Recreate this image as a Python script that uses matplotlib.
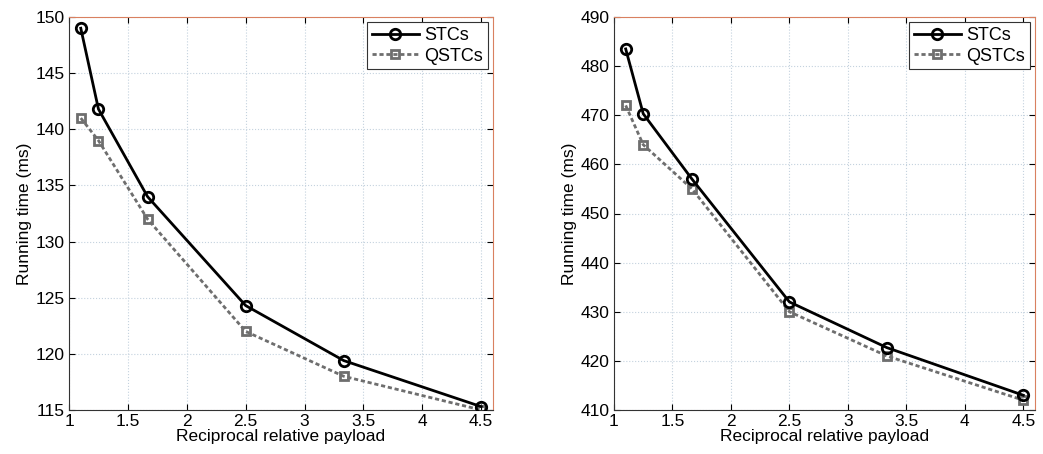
import matplotlib
matplotlib.use("Agg")
import matplotlib.pyplot as plt

# reciprocal relative payload
x_vals = [1.1, 1.25, 1.667, 2.5, 3.333, 4.5]

# left panel
stc_left = [149.0, 141.8, 134.0, 124.3, 119.4, 115.3]
qstc_left = [141.0, 139.0, 132.0, 122.0, 118.0, 115.0]

# right panel
stc_right = [483.5, 470.3, 457.0, 432.0, 422.7, 413.0]
qstc_right = [472.0, 464.0, 455.0, 430.0, 421.0, 412.0]

x_ticks = [1, 1.5, 2, 2.5, 3, 3.5, 4, 4.5]
x_tick_labels = ["1", "1.5", "2", "2.5", "3", "3.5", "4", "4.5"]
left_yticks = [115, 120, 125, 130, 135, 140, 145, 150]
right_yticks = [410, 420, 430, 440, 450, 460, 470, 480, 490]

plt.rcParams['font.family'] = ['Liberation Sans', 'DejaVu Sans']
plt.rcParams['font.size'] = 12.5

fig = plt.figure(figsize=(10.43, 4.54), dpi=100)
W, H = 1043, 454
ax1 = fig.add_axes([69 / W, 44 / H, (493 - 69) / W, (410 - 17) / H])
ax2 = fig.add_axes([614 / W, 44 / H, (1035 - 614) / W, (410 - 17) / H])


def draw_panel(ax, stc, qstc, yticks):
    ax.plot(x_vals, stc, color='black', lw=2, marker='o', ms=7.5,
            mfc='none', mec='black', mew=2, label='STCs', zorder=3)
    ax.plot(x_vals, qstc, color='#6e6e6e', lw=2, ls=(0, (1.5, 1)),
            marker='s', ms=6, mfc='none', mec='#6e6e6e', mew=2,
            label='QSTCs', zorder=2)
    ax.set_xlim(1, 4.6)
    ax.set_ylim(yticks[0], yticks[-1])
    ax.set_xticks(x_ticks)
    ax.set_xticklabels(x_tick_labels)
    ax.set_yticks(yticks)
    ax.grid(True, ls=':', color='#c4d2de', lw=0.8)
    ax.tick_params(direction='in', length=4, top=True, right=True, pad=3)
    for s in ['top', 'right']:
        ax.spines[s].set_color('#d98060')
        ax.spines[s].set_linewidth(0.8)
    for s in ['left', 'bottom']:
        ax.spines[s].set_color('#333333')
        ax.spines[s].set_linewidth(0.8)
    ax.set_xlabel('Reciprocal relative payload', labelpad=0)
    ax.set_ylabel('Running time (ms)', labelpad=3)
    leg = ax.legend(loc='upper right', fancybox=False, framealpha=1,
                    edgecolor='#333333', handlelength=2.6, fontsize=13,
                    borderaxespad=0.3, borderpad=0.25, labelspacing=0.2,
                    handletextpad=0.3)
    leg.get_frame().set_linewidth(0.8)


draw_panel(ax1, stc_left, qstc_left, left_yticks)
draw_panel(ax2, stc_right, qstc_right, right_yticks)

fig.savefig('out.png', dpi=100)
